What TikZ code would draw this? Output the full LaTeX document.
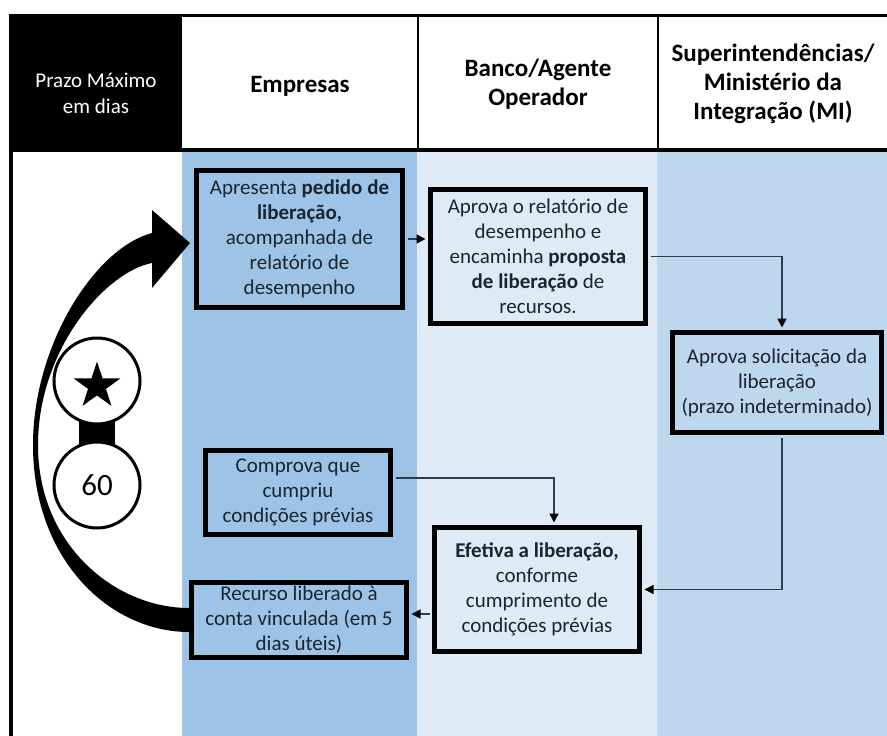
\documentclass[tikz,border=0pt]{standalone}
\usepackage{fontspec}
\setmainfont{Carlito}
\usetikzlibrary{arrows.meta,shapes.geometric}
\definecolor{colA}{RGB}{157,195,230}
\definecolor{colB}{RGB}{222,235,247}
\definecolor{colC}{RGB}{189,215,238}
\definecolor{txt}{RGB}{28,36,48}
\definecolor{linec}{RGB}{45,60,78}
\tikzset{
  box/.style={draw=black, line width=5pt, inner sep=0pt, align=center, text=txt,
    font=\fontsize{21}{25}\selectfont},
  conn/.style={draw=linec, line width=1.5pt, shorten >=2.5pt, shorten <=2.5pt,
    -{Triangle[length=9pt,width=9pt,color=black]}},
  hdr/.style={align=center, text=black, font=\fontsize{25}{29}\selectfont\bfseries},
  hdrL/.style={align=center, text=white, font=\fontsize{21}{26}\selectfont},
  badge/.style={circle, draw=black, line width=3pt, fill=white, inner sep=0pt,
    minimum size=86pt}
}
\begin{document}
\begin{tikzpicture}[x=1pt,y=-1pt]
\useasboundingbox (0,0) rectangle (887,736);
\fill[white] (0,0) rectangle (887,736);
% lanes
\fill[colA] (182,150) rectangle (417,736);
\fill[colB] (417,150) rectangle (657,736);
\fill[colC] (657,150) rectangle (887,736);
% header
\fill[black] (9,14) rectangle (182,150);
\draw[line width=3pt] (9,15.5) -- (887,15.5);
\draw[line width=4pt] (9,150) -- (887,150);
\draw[line width=4pt] (11,14) -- (11,736);
\draw[line width=2.5pt] (418,15) -- (418,150);
\draw[line width=2.5pt] (658,15) -- (658,150);
\node[hdrL] (hP) at (96,93) {Prazo Máximo\\em dias};
\node[hdr] (hE) at (300,86) {Empresas};
\node[hdr] (hB) at (538,84) {Banco/Agente\\Operador};
\node[hdr] (hS) at (773,84) {Superintendências/\\Ministério da\\Integração (MI)};
% big curved arrow
\fill[black] (189,608) .. controls (115,608) and (38,545) .. (38,445)
  .. controls (38,350) and (105,272) .. (152,263)
  -- (152,288) -- (190,243) -- (152,210) -- (152,233)
  .. controls (95,248) and (33,345) .. (33,445)
  .. controls (33,560) and (110,632) .. (189,632) -- cycle;
% badges
\fill[black] (79,410) rectangle (115,455);
\node[badge] (c1) at (97,381) {};
\node[star, star points=5, star point ratio=2.6, fill=black, inner sep=0pt,
  minimum size=49pt] (st) at (97,386) {};
\node[badge, font=\fontsize{31}{31}\selectfont] (c2) at (97,485) {60};
% boxes
\node[box, fill=colA, minimum width=206pt, minimum height=137pt] (b1) at (299.5,239)
  {Apresenta \textbf{pedido de}\\\textbf{liberação,}\\acompanhada de\\relatório de\\desempenho};
\node[box, fill=colB, minimum width=215pt, minimum height=134pt] (b2) at (538,256.5)
  {Aprova o relatório de\\desempenho e\\encaminha \textbf{proposta}\\\textbf{de liberação} de\\recursos.};
\node[box, fill=colC, minimum width=209pt, minimum height=100pt] (b3) at (777,382.5)
  {Aprova solicitação da\\liberação\\(prazo indeterminado)};
\node[box, fill=colA, minimum width=185pt, minimum height=84pt] (b4) at (298,492.5)
  {Comprova que\\cumpriu\\condições prévias};
\node[box, fill=colB, minimum width=205pt, minimum height=124pt] (b5) at (537,589.5)
  {\textbf{Efetiva a liberação,}\\conforme\\cumprimento de\\condições prévias};
\node[box, fill=colA, minimum width=215pt, minimum height=75pt] (b6) at (299,620)
  {Recurso liberado à\\conta vinculada (em 5\\dias úteis)};
% connectors
\draw[conn] (b1.east) -- (b1.east -| b2.west);
\draw[conn] (b2.east) -| ([xshift=5pt]b3.north);
\draw[conn] ([xshift=5pt]b3.south) |- (b5.east);
\draw[conn] ([yshift=14.5pt]b4.east) -| ([xshift=17pt]b5.north);
\draw[conn] ([yshift=-24.5pt]b5.west) -- ([yshift=6pt]b6.east);
\end{tikzpicture}
\end{document}
